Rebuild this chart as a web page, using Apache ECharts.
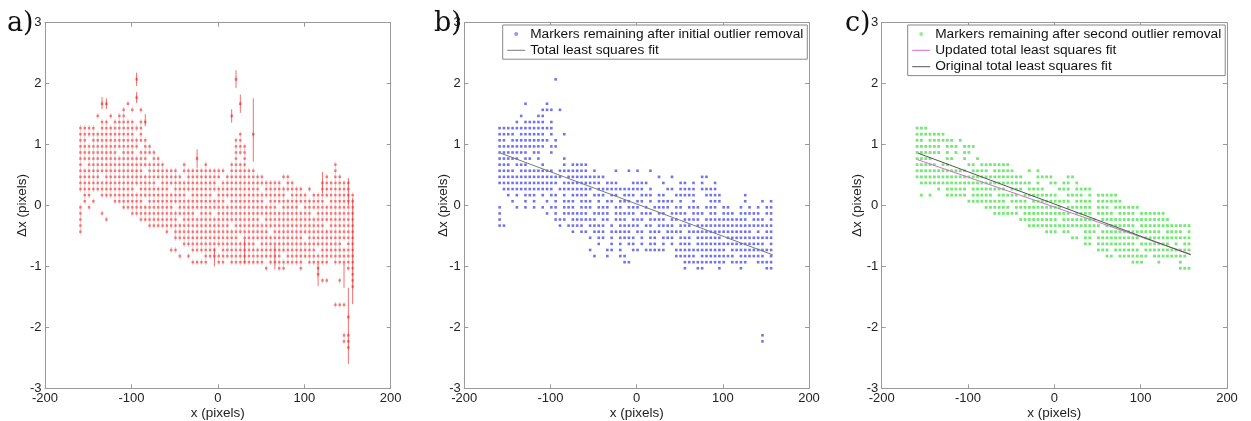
<!DOCTYPE html>
<html>
<head>
<meta charset="utf-8">
<script src="https://cdn.jsdelivr.net/npm/echarts@6/dist/echarts.min.js"></script>
<style>html,body{margin:0;padding:0;background:#fff}#c{width:1251px;height:421px}</style>
</head>
<body>
<div id="c"></div>
<script>
// lattice columns (x, pixels) and rows (dx, pixels)
const colX = [-159,-154,-149,-144,-139,-134,-129,-124,-119,-114,
  -109,-104,-99,-94,-89,-84,-79,-74,-69,-64,
  -59,-54,-49,-44,-39,-34,-29,-24,-19,-14,
  -9,-4,1,6,11,16,21,26,31,36,
  41,46,51,56,61,66,71,76,81,86,
  91,96,101,106,111,116,121,126,131,136,
  141,146,151,156];
const rowY = [2.07,1.97,1.87,1.77,1.67,1.57,1.47,1.37,1.27,1.17,1.07,0.97,0.87,0.77,0.67,0.57,0.47,0.37,0.27,0.17,0.07,
  -0.03,-0.13,-0.23,-0.33,-0.43,-0.53,-0.63,-0.73,-0.83,-0.93,-1.03,-1.13,-1.23,-1.33,-1.43,-1.53,-1.63,-1.73,-1.83,-1.93,
  -2.03,-2.13,-2.23,-2.33,-2.43,-2.53];

// panel a: all markers (one string per row of rowY, one char per column of colX)
const redRows = [
".......... ...#...... .......... ......#...",
"",
"",
".......... ...#......",
".....##... .#........ .......... .......#..",
".......... #.#.#.....",
"....#..#.# #......... .......... .....#....",
".....##.## ###.##....",
"####.##### #####.....",
"########## ###.#..... .......... .......#.. #.........",
"##.####### ######.... .......... ......##..",
"########## ####.##... .......... ......###.",
"#########. ###.####.. .......... ......###.",
"########## ######.##. .......#.. ......#.#.",
"#.######## ########## ....#....# .....####. .......... .........#",
"########## #####.#### ###.###### ####.##### #......... .........#",
"#####.#### ########## ####.##### ###.###### ###....##. .......#.# #...",
"########## ########.# ########## ##.####### #######.## ......#### ###.",
"########## ###.###### #.######## ########## ##.####### ##.#..#### ###.",
".##..##### ########## #####.#### #.######## ########.# ###.###### ####",
".#.#....## #####.#### ########## ####.##### ###.###### #######.## ####",
"#.#....... ########## ##.####### ########## ######.### #.######## ####",
"#....#.... ..######## #######.## #.######## ########## ####.##### ####",
"#.....#... ....###### ###.###### ########## ##.####### ########## ####",
"#......... ......#### ########## #####.#### ########## #######.## ####",
"#......... .......... #.######## ########## ####.##### ########## ####",
".......... .......... ..######## #######.## ########## ##.####### ####",
".......... .......... ....###### ########## #.######## ########## #.##",
".......... .......... .##...#### ##.####### ########## #####.#### ####",
".......... .......... ...#.#...# ########## #######.## ########## ####",
".......... .......... ......#### ..##.##### ###.###### ##.#####.# ####",
".......... .......... .......... .......... ...#..##.. .#...#.... ..##",
".......... .......... .......... .......... .......... .....#.... ...#",
".......... .......... .......... .......... .......... ......##.. #..#",
".......... .......... .......... .......... .......... .......... ...#",
"",
"",
".......... .......... .......... .......... .......... .........# ##..",
"",
".......... .......... .......... .......... .......... .......... ..#.",
"",
"",
".......... .......... .......... .......... .......... .......... .##.",
".......... .......... .......... .......... .......... .......... .##.",
".......... .......... .......... .......... .......... .......... ..#."
];

// panel b: markers remaining after initial outlier removal
const blueRows = [
".......... ...#......",
"",
"",
"",
"......#... .#........",
".......... ###.#.....",
".....#...# #.........",
"....#.#### #.#.......",
"########## ###.......",
"####.##### #.#..#....",
"##.####### ##.#......",
"########## #.##......",
"#######.## ..#.......",
"#####.##.# .....#....",
"###.###... #....#.### #.........",
"####.##### ###.###### #.#....#.. #.#..#....",
"########## #####.#### #####..... .......#.. #......##.",
"########## ####.##### ####.###.. .####...#. ..##.#.#.. #.........",
".######### ###.###### ##.####### ####.#...# #.####.### #.........",
"..#.#.###. #.##.#.### #.###.##.# ##.###.##. .#####..## ##.....#..",
"...#..#.#. .#.#.###.# ##.#.##.## #.##.#.### #.#..#...# ##.....#.. .#.#",
"#...#.#.#. #.##.###.# ##.###.##. ###.#.#### .##.###.## #.##..#.#. #.##",
"#......... .#.#.##### #.####.### ##.###.##. ####.###.# #.###.#### #.##",
"#......... ...###.### ###.##.### .###.####. ##.####.## ########.# ##.#",
"##........ ....#.#### .####.#.## ###.##.### #.###.#### ########## ####",
".......... .......#.# #.###.#### #.##.###.# ###.###### #########. #.##",
".......... .......... .#.##.#.## ##.#.##.## #.###.#### ##.####### ####",
".......... .......... ...#..#.#. ##.#.##.#. #.###.#### ########## ##.#",
".......... .......... .#...##.#. .##.#####. .######### ###.###### ####",
".......... .......... ..#..#..## .......... .#####.### #####.#### ##.#",
".......... .......... .........# #......... ...####### ###.####.. ####",
".......... .......... .......... .......... ...#..##.. .#....#... ..##",
"", "", "", "", "", "", "", "", "", "",
".......... .......... .......... .......... .......... .......... .#..",
".......... .......... .......... .......... .......... .......... .#.."
];

// panel c: markers remaining after second outlier removal
const greenRows = [
"", "", "", "", "", "", "", "",
"###.......",
"#######...",
"##.######. #.........",
"######.### .###......",
"######.#.# .##.......",
"####...##. .#..#.....",
"#####.##.. ..##.##### ##........",
"########## ##.####.## ###...#.#.",
"########## ########## #####...## ##...##...",
".######### ########## #######.#. .##.##.#..",
".....#.### ##.####### #.###.#### ...###.### #.........",
".#.#...### ##.#####.# ####.##### ###..####. #.#####...",
".......... ..######## #.####.### ######.### #.######..",
".......... ......#### ##.####### ####.##### #.###.#### ##........",
".......... ........## ####.##### ######.### #.####.### #.######..",
".......... .......... ....###### ###.###### ##.####### #########.",
".......... .......... ......#### ########## ###.###### #.######## ####",
".......... .......... .......... ###.##...# ##.####### #######.## ##.#",
".......... .......... .......... ......##.# #.######## ##.####### ####",
".......... .......... .......... .........# #.######## #.#######. #.##",
".......... .......... .......... .......... ..###.#### ##.####### ####",
".......... .......... .......... .......... ....##.### ####.##### ###.",
".......... .......... .......... .......... .......... ###...#... .#..",
".......... .......... .......... .......... .......... .......... .###"
];

// panel a: longer vertical error bars [x, low, high]
const redErrBars = [
  [-94, 1.96, 2.18], [-94, 1.68, 1.86], [-134, 1.58, 1.78], [-129, 1.58, 1.76], [-84, 1.3, 1.5],
  [21, 1.93, 2.22], [26, 1.52, 1.82], [16, 1.36, 1.58], [41, 0.72, 1.76], [-24, 0.62, 0.92],
  [121, 0.2, 0.55], [151, 0.0, 0.45], [116, -1.32, -0.95], [151, -2.6, -2.0], [151, -2.0, -1.35],
  [156, -1.62, 0.12], [146, -1.35, -0.95], [66, -1.05, -0.65], [-4, -1.0, -0.7], [31, -0.95, -0.55]
];

// fitted lines [x, dx]
const bFit = [[-158, 0.86], [158, -0.81]];
const cUpdatedFit = [[-158, 0.75], [158, -0.80]];
const cOriginalFit = [[-158, 0.86], [158, -0.81]];

const panelLabels = ['a)', 'b)', 'c)'];
const xName = 'x (pixels)';
const yName = '\u0394x (pixels)';
const legendB = ['Markers remaining after initial outlier removal', 'Total least squares fit'];
const legendC = ['Markers remaining after second outlier removal', 'Updated total least squares fit', 'Original total least squares fit'];

function decode(rows) {
  const pts = [];
  rows.forEach((r, k) => {
    const s = r.replace(/ /g, '');
    for (let i = 0; i < s.length; i++) if (s[i] === '#') pts.push([colX[i], rowY[k]]);
  });
  return pts;
}

const FONT = 'Liberation Sans';
const AX = '#9a9a9a';
const grids = [
  {left: 45, top: 22.7, width: 345.7, height: 365.6, outerBoundsMode: 'none', containLabel: false},
  {left: 464.3, top: 22.7, width: 344.7, height: 365.6, outerBoundsMode: 'none', containLabel: false},
  {left: 881.7, top: 22.7, width: 345.3, height: 365.6, outerBoundsMode: 'none', containLabel: false}
];
const yNameGaps = [15.3, 14.5, 17];

const xAxis = [], yAxis = [];
grids.forEach((g, gi) => {
  const common = {
    gridIndex: gi, type: 'value',
    axisLine: {show: true, onZero: false, lineStyle: {color: AX, width: 1}},
    axisTick: {show: true, inside: true, length: 4, lineStyle: {color: AX}},
    splitLine: {show: false}
  };
  xAxis.push(Object.assign({}, common, {
    position: 'bottom', min: -200, max: 200, interval: 100,
    axisLabel: {color: '#222', fontSize: 13, fontFamily: FONT, margin: 3.5},
    name: xName, nameLocation: 'middle', nameGap: 18, nameMoveOverlap: false,
    nameTextStyle: {color: '#222', fontSize: 13.5, fontFamily: FONT}
  }));
  xAxis.push(Object.assign({}, common, {
    position: 'top', min: -200, max: 200, interval: 100, axisLabel: {show: false}
  }));
  yAxis.push(Object.assign({}, common, {
    position: 'left', min: -3, max: 3, interval: 1,
    axisLabel: {color: '#222', fontSize: 13, fontFamily: FONT, margin: 3.5},
    name: yName, nameLocation: 'middle', nameGap: yNameGaps[gi], nameRotate: 90, nameMoveOverlap: false,
    nameTextStyle: {color: '#222', fontSize: 13.5, fontFamily: FONT}
  }));
  yAxis.push(Object.assign({}, common, {
    position: 'right', min: -3, max: 3, interval: 1, axisLabel: {show: false}
  }));
});

const legendCommon = {
  orient: 'vertical', selectedMode: false, borderColor: '#888', borderWidth: 1,
  backgroundColor: '#fff', padding: [1.5, 4, 1.5, 4], itemGap: 1.6, itemWidth: 18, itemHeight: 4,
  textStyle: {fontFamily: FONT, fontSize: 13.7, color: '#111', lineHeight: 14.8}
};

const option = {
  animation: false,
  backgroundColor: '#fff',
  title: panelLabels.map((t, i) => ({
    text: t, left: [7, 434, 845][i], top: 10, padding: 0,
    textStyle: {fontFamily: 'DejaVu Serif', fontSize: 27, fontWeight: 'normal', color: '#111'}
  })),
  grid: grids,
  xAxis: xAxis,
  yAxis: yAxis,
  legend: [
    Object.assign({}, legendCommon, {
      left: 502.7, top: 25,
      data: [{name: legendB[0], icon: 'circle', itemStyle: {opacity: 0.6}},
             {name: legendB[1], itemStyle: {opacity: 0}, lineStyle: {width: 1}}]
    }),
    Object.assign({}, legendCommon, {
      left: 907.7, top: 25,
      data: [{name: legendC[0], icon: 'circle', itemStyle: {opacity: 0.6}},
             {name: legendC[1], itemStyle: {opacity: 0}, lineStyle: {width: 1}},
             {name: legendC[2], itemStyle: {opacity: 0}, lineStyle: {width: 1}}]
    })
  ],
  series: [
    {
      type: 'custom', name: 'errbars', xAxisIndex: 0, yAxisIndex: 0,
      data: redErrBars,
      renderItem: function (params, api) {
        const p1 = api.coord([api.value(0), api.value(1)]);
        const p2 = api.coord([api.value(0), api.value(2)]);
        return {type: 'line', shape: {x1: p1[0], y1: p1[1], x2: p2[0], y2: p2[1]},
          style: {stroke: 'rgba(235,50,50,0.7)', lineWidth: 1}};
      },
      encode: {x: 0, y: [1, 2]}, silent: true
    },
    {
      type: 'scatter', name: 'bars a', xAxisIndex: 0, yAxisIndex: 0,
      data: decode(redRows), symbol: 'rect', symbolSize: [1, 6],
      itemStyle: {color: 'rgba(240,80,80,0.4)'}, silent: true
    },
    {
      type: 'scatter', name: 'markers a', xAxisIndex: 0, yAxisIndex: 0,
      data: decode(redRows), symbol: 'rect', symbolSize: 2.5,
      itemStyle: {color: 'rgba(230,25,25,0.65)'}, silent: true
    },
    {
      type: 'scatter', name: legendB[0], xAxisIndex: 2, yAxisIndex: 2,
      data: decode(blueRows), symbol: 'rect', symbolSize: 2.6,
      itemStyle: {color: 'rgba(35,35,225,0.8)'}, silent: true
    },
    {
      type: 'line', name: legendB[1], xAxisIndex: 2, yAxisIndex: 2,
      data: bFit, symbol: 'none', lineStyle: {color: '#7a7a7a', width: 1}, silent: true
    },
    {
      type: 'scatter', name: legendC[0], xAxisIndex: 4, yAxisIndex: 4,
      data: decode(greenRows), symbol: 'rect', symbolSize: 2.8,
      itemStyle: {color: 'rgba(25,215,25,0.75)'}, silent: true
    },
    {
      type: 'line', name: legendC[1], xAxisIndex: 4, yAxisIndex: 4,
      data: cUpdatedFit, symbol: 'none', lineStyle: {color: '#d66ad6', width: 1}, silent: true
    },
    {
      type: 'line', name: legendC[2], xAxisIndex: 4, yAxisIndex: 4,
      data: cOriginalFit, symbol: 'none', lineStyle: {color: '#555555', width: 1}, silent: true
    }
  ]
};

const chart = echarts.init(document.getElementById('c'), null, {renderer: 'canvas'});
chart.setOption(option);
</script>
</body>
</html>
